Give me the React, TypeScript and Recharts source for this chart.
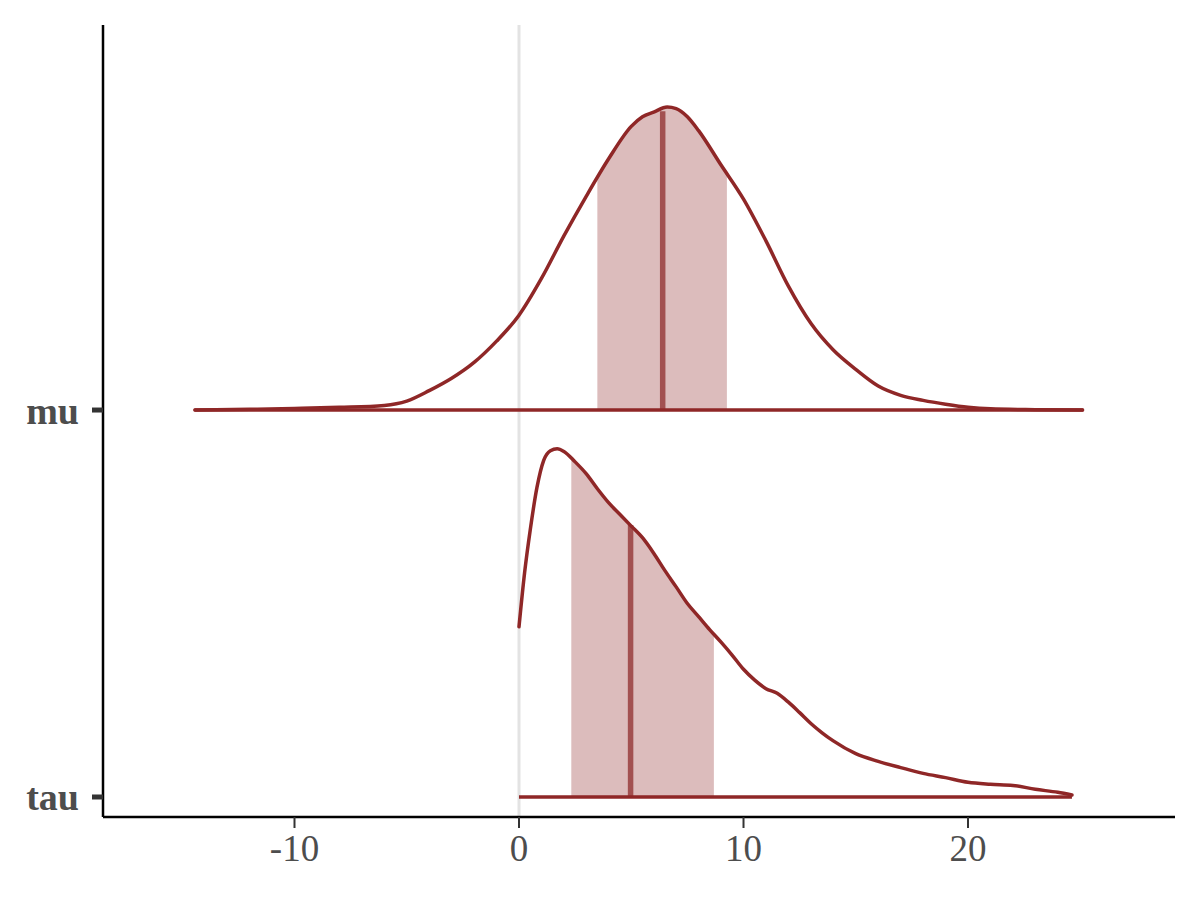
import { Area, ComposedChart, Line, ReferenceLine, XAxis, YAxis } from "recharts";

// posterior densities (heights in row units, row spacing = 1)
const muX = [-14.43, -12, -10, -8, -6, -5, -4, -3, -2, -1, 0, 1, 2, 3, 4, 5, 5.5, 6, 6.6, 7, 7.5, 8, 9, 10, 11, 12, 13, 14, 15, 16, 17, 18, 19, 20, 21, 23, 25.1];
const muDensity = [0, 0.002, 0.004, 0.007, 0.012, 0.023, 0.05, 0.082, 0.123, 0.178, 0.245, 0.34, 0.45, 0.553, 0.65, 0.733, 0.758, 0.77, 0.783, 0.779, 0.758, 0.722, 0.633, 0.545, 0.437, 0.32, 0.224, 0.155, 0.105, 0.062, 0.038, 0.025, 0.015, 0.007, 0.003, 0.001, 0];

const tauX = [0, 0.25, 0.5, 0.8, 1.1, 1.4, 1.7, 2, 2.5, 3, 3.5, 4, 4.5, 5, 5.5, 6, 6.5, 7, 7.5, 8, 8.5, 9, 9.5, 10, 10.5, 11, 11.5, 12, 12.5, 13, 13.5, 14, 15, 16, 17, 18, 19, 20, 21, 22, 23, 24, 24.63];
const tauDensity = [0.44, 0.58, 0.69, 0.8, 0.87, 0.895, 0.9, 0.893, 0.866, 0.835, 0.796, 0.76, 0.73, 0.7, 0.67, 0.63, 0.585, 0.543, 0.5, 0.466, 0.432, 0.4, 0.366, 0.33, 0.302, 0.28, 0.268, 0.245, 0.218, 0.19, 0.166, 0.145, 0.112, 0.092, 0.076, 0.061, 0.05, 0.038, 0.033, 0.03, 0.02, 0.012, 0.005];

// 50% interval edges [x, height] and medians
const muInterval = [[3.49, 0.6], [9.26, 0.61]];
const tauInterval = [[2.33, 0.877], [8.68, 0.42]];
const muMedian = [6.4, 0.772];
const tauMedian = [4.97, 0.703];

const rowNames = ["tau", "mu"];
const xTicks = [-10, 0, 10, 20];

const DARK = "#8f2727";
const MID = "#a25050";
const LIGHT = "#dcbcbc";

type Row = { x: number; [k: string]: number | number[] };

function buildRows(): Row[] {
  const rows: Row[] = [];
  const addRidge = (name: string, xs: number[], ys: number[], offset: number, interval: number[][], median: number[]) => {
    xs.forEach((x, i) => rows.push({ x, [name]: offset + ys[i] }));
    rows.push({ x: xs[0], [name + "Base"]: offset }, { x: xs[xs.length - 1], [name + "Base"]: offset });
    const [lo, hi] = interval;
    rows.push({ x: lo[0], [name + "Band"]: [offset, offset + lo[1]] });
    xs.forEach((x, i) => {
      if (x > lo[0] && x < hi[0]) rows.push({ x, [name + "Band"]: [offset, offset + ys[i]] });
    });
    rows.push({ x: hi[0], [name + "Band"]: [offset, offset + hi[1]] });
    rows.push({ x: median[0], [name + "Med"]: offset }, { x: median[0], [name + "Med"]: offset + median[1] });
  };
  addRidge("mu", muX, muDensity, 1, muInterval, muMedian);
  addRidge("tau", tauX, tauDensity, 0, tauInterval, tauMedian);
  return rows.map((r, i) => ({ r, i })).sort((a, b) => a.r.x - b.r.x || a.i - b.i).map((d) => d.r);
}

const data = buildRows();

const serif = "'Liberation Serif', 'DejaVu Serif', serif";

export default function App() {
  return (
    <div style={{ position: "absolute", left: 0, top: 0, width: 1200, height: 900, background: "#fff" }}>
      <ComposedChart width={1200} height={900} data={data} margin={{ top: 25, right: 25, bottom: 0, left: 0 }}>
        <XAxis
          type="number"
          dataKey="x"
          domain={[-18.53, 29.22]}
          allowDataOverflow
          ticks={xTicks}
          interval={0}
          height={83}
          axisLine={{ stroke: "#000", strokeWidth: 2.5 }}
          tickLine={{ stroke: "#333", strokeWidth: 2 }}
          tickSize={11}
          tickMargin={7}
          tick={{ fill: "#4d4d4d", fontSize: 37, fontFamily: serif }}
        />
        <YAxis
          type="number"
          domain={[-0.0517, 1.995]}
          allowDataOverflow
          ticks={[0, 1]}
          interval={0}
          width={103}
          tickFormatter={(v) => rowNames[Number(v)]}
          axisLine={{ stroke: "#000", strokeWidth: 2.5 }}
          tickLine={{ stroke: "#333", strokeWidth: 5 }}
          tickSize={11}
          tickMargin={13}
          tick={{ fill: "#4d4d4d", fontSize: 38, fontFamily: serif, fontWeight: "bold" }}
        />
        <ReferenceLine x={0} stroke="#e3e3e3" strokeWidth={3} />
        <Area dataKey="muBand" type="monotone" fill={LIGHT} fillOpacity={1} stroke="none" connectNulls isAnimationActive={false} />
        <Area dataKey="tauBand" type="monotone" fill={LIGHT} fillOpacity={1} stroke="none" connectNulls isAnimationActive={false} />
        <Line dataKey="muMed" type="linear" stroke={MID} strokeWidth={5.5} dot={false} connectNulls isAnimationActive={false} />
        <Line dataKey="tauMed" type="linear" stroke={MID} strokeWidth={5.5} dot={false} connectNulls isAnimationActive={false} />
        <Line dataKey="muBase" type="linear" stroke={DARK} strokeWidth={3.5} strokeLinecap="round" dot={false} connectNulls isAnimationActive={false} />
        <Line dataKey="tauBase" type="linear" stroke={DARK} strokeWidth={3.5} dot={false} connectNulls isAnimationActive={false} />
        <Line dataKey="mu" type="monotone" stroke={DARK} strokeWidth={3.5} strokeLinecap="round" dot={false} connectNulls isAnimationActive={false} />
        <Line dataKey="tau" type="monotone" stroke={DARK} strokeWidth={3.5} strokeLinecap="round" dot={false} connectNulls isAnimationActive={false} />
      </ComposedChart>
    </div>
  );
}
